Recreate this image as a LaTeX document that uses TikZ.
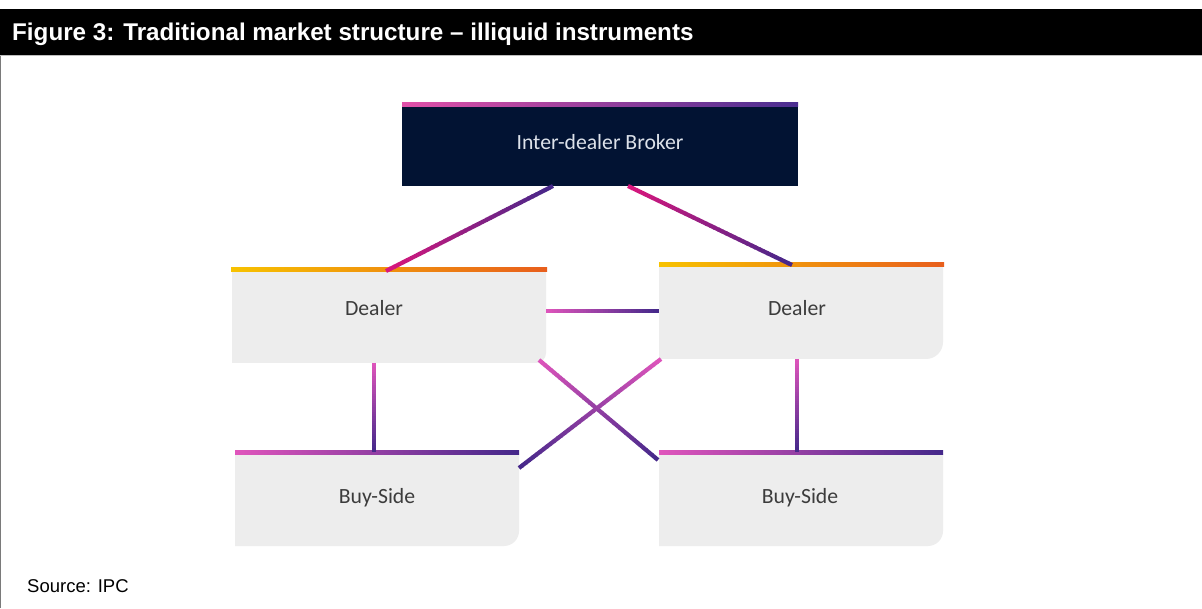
\documentclass[tikz,border=0pt]{standalone}
\usepackage{fontspec}
\setmainfont{Liberation Sans}
\newfontfamily\calib{Carlito}
\usetikzlibrary{calc}
\definecolor{navy}{HTML}{021333}
\definecolor{boxgray}{HTML}{EDEDED}
\definecolor{txtgray}{HTML}{3C3C3C}
\definecolor{brtxt}{HTML}{DDE2EA}
\definecolor{pinkc}{HTML}{E055BC}
\definecolor{magc}{HTML}{DC167C}
\definecolor{purpc}{HTML}{44288A}
\definecolor{yelc}{HTML}{F7C200}
\definecolor{orac}{HTML}{E85E1C}
\definecolor{brpink}{HTML}{E050A8}
\definecolor{brpurp}{HTML}{4A2E90}
\definecolor{framegray}{HTML}{7A7A7A}
\tikzset{
  boxnode/.style={rectangle, inner sep=0pt, outer sep=0pt, draw=none},
  boxtxt/.style={font=\calib\fontsize{21.7}{26}\selectfont, text=txtgray, inner sep=0pt},
  conn/.style={line width=4.2pt, line cap=butt},
}
\newcommand\gradline[4]{%
  \foreach \k in {1,...,40}{%
    \pgfmathtruncatemacro\pc{100-(\k-0.5)*2.5}%
    \draw[conn, draw=#3!\pc!#4] ($(#1)!{(\k-1)/40}!(#2)$) -- ($(#1)!{min(\k/40+0.004,1)}!(#2)$);
  }%
}
\newcommand\roundbox[3]{% node, radius, colour
  \fill[#3] (#1.north west) -- (#1.north east) -- ([yshift=#2]#1.south east)
    arc[start angle=0, end angle=-90, radius=#2] -- (#1.south west) -- cycle;
}
\begin{document}
\begin{tikzpicture}[x=1pt,y=1pt]
\useasboundingbox (0,0) rectangle (1202,608);
\fill[white] (0,0) rectangle (1202,608);
% title bar
\fill[black] (0,553) rectangle (1202,599);
\draw[framegray, line width=1.2pt] (0.6,0) -- (0.6,553);
\draw[black!25, line width=0.8pt] (0,552.6) -- (1202,552.6);
\node[anchor=base west, text=white, inner sep=0pt,
      font=\bfseries\fontsize{24.2}{28}\selectfont] (title) at (12,567.5)
      {Figure 3: Traditional market structure – illiquid instruments};
\node[anchor=base west, inner sep=0pt, font=\fontsize{18.5}{22}\selectfont] (src) at (27,16) {Source: IPC};

% boxes (shape nodes)
\node[boxnode, minimum width=396, minimum height=79] (broker) at (600,461.5) {};
\node[boxnode, minimum width=314, minimum height=92] (dl) at (389,291) {};
\node[boxnode, minimum width=284, minimum height=93] (dr) at (801,295.5) {};
\node[boxnode, minimum width=284, minimum height=92] (bl) at (377,108) {};
\node[boxnode, minimum width=284, minimum height=92] (br) at (801,108) {};

\fill[navy] (broker.north west) rectangle (broker.south east);
\roundbox{dl}{10}{boxgray}
\roundbox{dr}{17}{boxgray}
\roundbox{bl}{15}{boxgray}
\roundbox{br}{15}{boxgray}

% top gradient bars
\shade[left color=brpink, right color=brpurp] ([yshift=0]broker.north west) rectangle ([yshift=4]broker.north east);
\shade[left color=yelc, right color=orac] ([xshift=-1,yshift=-1]dl.north west) rectangle ([xshift=1,yshift=3.5]dl.north east);
\shade[left color=yelc, right color=orac] ([yshift=-1]dr.north west) rectangle ([xshift=1,yshift=3.5]dr.north east);
\shade[left color=pinkc, right color=purpc] ([yshift=-1]bl.north west) rectangle ([yshift=3.5]bl.north east);
\shade[left color=pinkc, right color=purpc] ([yshift=-1]br.north west) rectangle ([yshift=3.5]br.north east);

% texts
\node[boxtxt, text=brtxt] (brokertxt) at (600,466) {Inter-dealer Broker};
\node[boxtxt] (dltxt) at (374,300) {Dealer};
\node[boxtxt] (drtxt) at (797,300) {Dealer};
\node[boxtxt] (bltxt) at (377,110) {Buy-Side};
\node[boxtxt] (brtxt) at (800,110) {Buy-Side};

% connector end points
\coordinate (c1a) at ([xshift=154]dl.north west);
\coordinate (c1b) at ([xshift=151]broker.south west);
\coordinate (c2a) at ([xshift=226]broker.south west);
\coordinate (c2b) at ([xshift=133,yshift=1]dr.north west);
\coordinate (c3a) at ([yshift=-40]dl.north east);
\coordinate (c3b) at ([yshift=-45]dr.north west);
\coordinate (c4a) at ([xshift=142]dl.south west);
\coordinate (c4b) at ([xshift=139,yshift=2]bl.north west);
\coordinate (c5a) at ([xshift=138]dr.south west);
\coordinate (c5b) at ([xshift=138,yshift=2]br.north west);
\coordinate (c6a) at ([xshift=-7,yshift=3]dl.south east);
\coordinate (c6b) at ([xshift=-1,yshift=-6]br.north west);
\coordinate (c7a) at ([xshift=2]dr.south west);
\coordinate (c7b) at ([yshift=-14]bl.north east);

\gradline{c1a}{c1b}{magc}{purpc}
\gradline{c2a}{c2b}{magc}{purpc}
\gradline{c3a}{c3b}{pinkc}{purpc}
\gradline{c4a}{c4b}{pinkc}{purpc}
\gradline{c5a}{c5b}{pinkc}{purpc}
\gradline{c6a}{c6b}{pinkc}{purpc}
\gradline{c7a}{c7b}{pinkc}{purpc}
\end{tikzpicture}
\end{document}
